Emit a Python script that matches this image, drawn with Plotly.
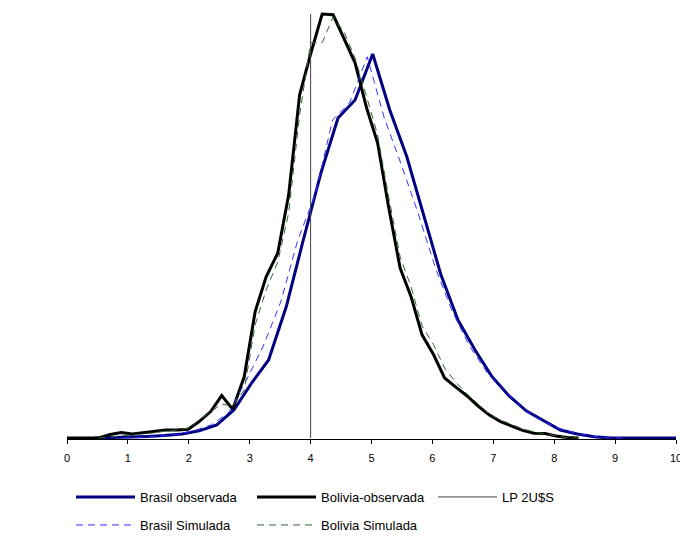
import plotly.graph_objects as go

# ---------------- data ----------------
bol_obs_x = [0.0, 0.52, 0.71, 0.89, 1.07, 1.26, 1.44, 1.62, 1.81, 1.99, 2.17, 2.36, 2.54, 2.72,
             2.91, 3.09, 3.27, 3.46, 3.64, 3.82, 4.00, 4.19, 4.37, 4.55, 4.73, 4.92, 5.10, 5.28,
             5.47, 5.65, 5.83, 6.02, 6.20, 6.38, 6.57, 6.75, 6.93, 7.12, 7.30, 7.48, 7.67, 7.85,
             8.03, 8.22, 8.40]
bol_obs_y = [0, 0, 0.09, 0.14, 0.10, 0.14, 0.16, 0.20, 0.20, 0.22, 0.41, 0.66, 1.06, 0.72,
             1.53, 3.16, 4.03, 4.62, 6.08, 8.58, 9.60, 10.60, 10.58, 10.00, 9.38, 8.25, 7.38, 5.78,
             4.25, 3.53, 2.58, 2.08, 1.50, 1.28, 1.05, 0.80, 0.58, 0.41, 0.29, 0.19, 0.12, 0.11,
             0.05, 0.01, 0]

bol_sim_x = [0.52, 0.71, 0.89, 1.07, 1.26, 1.44, 1.62, 1.81, 1.99, 2.17, 2.36, 2.54, 2.72,
             2.91, 3.09, 3.27, 3.46, 3.64, 3.82, 4.00, 4.19, 4.37, 4.55, 4.73, 4.92, 5.10, 5.28,
             5.47, 5.65, 5.83, 6.02, 6.20, 6.38, 6.57, 6.75, 6.93, 7.12, 7.30, 7.48, 7.67, 7.85,
             8.03, 8.22, 8.40]
bol_sim_y = [0, 0.03, 0.05, 0.08, 0.10, 0.13, 0.18, 0.20, 0.25, 0.45, 0.65, 0.85, 0.80,
             1.20, 2.83, 3.70, 4.40, 5.63, 8.08, 9.88, 9.88, 10.53, 10.15, 9.50, 8.53, 7.58, 6.05,
             4.53, 3.78, 2.80, 2.33, 1.75, 1.40, 1.10, 0.85, 0.60, 0.45, 0.33, 0.23, 0.15, 0.10,
             0.05, 0.01, 0]

bra_obs_x = [0.46, 0.75, 1.03, 1.32, 1.60, 1.89, 2.17, 2.46, 2.74, 3.03, 3.31, 3.60, 3.88,
             4.17, 4.45, 4.73, 5.02, 5.30, 5.58, 5.86, 6.14, 6.42, 6.70, 6.98, 7.26, 7.54,
             7.82, 8.10, 8.38, 8.66, 8.94, 10.0]
bra_obs_y = [0, 0.01, 0.03, 0.04, 0.06, 0.10, 0.18, 0.33, 0.70, 1.37, 1.95, 3.28, 4.95,
             6.63, 8.00, 8.45, 9.60, 8.20, 7.03, 5.55, 4.08, 2.95, 2.20, 1.53, 1.05, 0.68,
             0.43, 0.20, 0.10, 0.03, 0, 0]

bra_sim_x = [0.94, 1.23, 1.51, 1.80, 2.08, 2.37, 2.65, 2.94, 3.22, 3.51, 3.79, 4.08, 4.36,
             4.64, 4.93, 5.21, 5.49, 5.77, 6.05, 6.33, 6.61, 6.89, 7.17, 7.45, 7.73, 8.01,
             8.29, 8.57, 8.85, 9.13]
bra_sim_y = [0, 0.01, 0.04, 0.09, 0.18, 0.33, 0.63, 1.43, 2.29, 3.40, 4.95, 6.10, 7.95,
             8.38, 9.53, 8.00, 6.83, 5.60, 4.25, 3.15, 2.30, 1.65, 1.20, 0.78, 0.48, 0.28,
             0.15, 0.06, 0.01, 0]

lp_x = [4, 4]
lp_y = [0, 10.6]

x_ticks = [0, 1, 2, 3, 4, 5, 6, 7, 8, 9, 10]

FONT = "Liberation Sans, Arial, sans-serif"

fig = go.Figure()
fig.add_trace(go.Scatter(x=bra_obs_x, y=bra_obs_y, mode="lines", name="Brasil observada",
                         line=dict(color="#000080", width=3), legend="legend"))
fig.add_trace(go.Scatter(x=bol_obs_x, y=bol_obs_y, mode="lines", name="Bolivia-observada",
                         line=dict(color="#000000", width=3), legend="legend"))
fig.add_trace(go.Scatter(x=lp_x, y=lp_y, mode="lines", name="LP 2U$S",
                         line=dict(color="#404040", width=1), legend="legend"))
fig.add_trace(go.Scatter(x=bra_sim_x, y=bra_sim_y, mode="lines", name="Brasil Simulada",
                         line=dict(color="#3333FF", width=1, dash="7px,5px"), legend="legend2"))
fig.add_trace(go.Scatter(x=bol_sim_x, y=bol_sim_y, mode="lines", name="Bolivia Simulada",
                         line=dict(color="#336633", width=1, dash="7px,5px"), legend="legend2"))

legend_common = dict(orientation="h", xref="container", yref="container",
                     xanchor="left", yanchor="middle", itemwidth=59,
                     entrywidth=107, font=dict(family=FONT, size=13, color="#000"),
                     bgcolor="rgba(0,0,0,0)", traceorder="normal")

fig.update_layout(
    width=680, height=539,
    margin=dict(l=67, r=4.3, t=10, b=100, autoexpand=False),
    paper_bgcolor="white", plot_bgcolor="white",
    font=dict(family=FONT, size=11, color="#000"),
    showlegend=True,
    legend=dict(x=71 / 680, y=1 - 497 / 539, **legend_common),
    legend2=dict(x=71 / 680, y=1 - 525 / 539, **legend_common),
    xaxis=dict(range=[0, 10], tickvals=x_ticks, ticktext=[str(t) for t in x_ticks],
               automargin=False,
               showgrid=False, zeroline=False, showline=True, linecolor="#000", linewidth=1,
               ticks="outside", ticklen=4, tickcolor="#000", tickwidth=1,
               ticklabelstandoff=5, ticklabeloverflow="allow",
               tickfont=dict(family=FONT, size=11, color="#000")),
    yaxis=dict(range=[-0.025, 10.7], showgrid=False, zeroline=False, showline=False,
               showticklabels=False, ticks="", automargin=False),
)

fig.write_html("out.html", config={"displayModeBar": False},
               post_script="document.body.style.margin='0';document.body.style.overflow='hidden';")
